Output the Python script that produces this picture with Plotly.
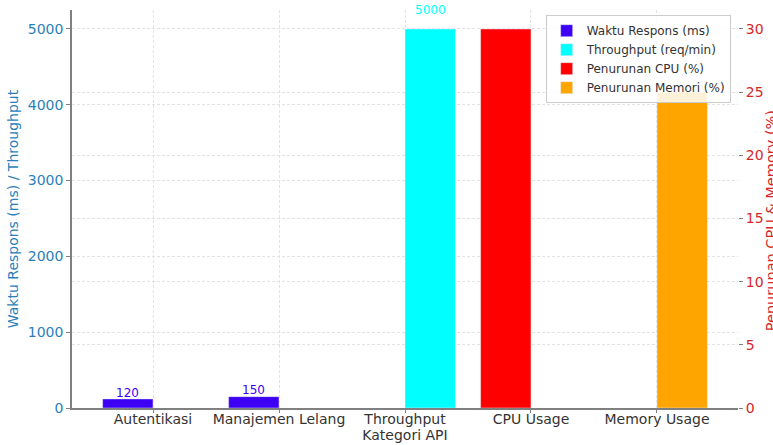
import plotly.graph_objects as go

categories = ["Autentikasi", "Manajemen Lelang", "Throughput", "CPU Usage", "Memory Usage"]
resp_idx = [0, 1]
resp_vals = [120, 150]
thr_idx = [2]
thr_vals = [5000]
cpu_idx = [3]
cpu_vals = [30]
mem_idx = [4]
mem_vals = [25]

C_RESP = "#3d00f5"
C_THR = "#00ffff"
C_CPU = "#ff0000"
C_MEM = "#ffa500"
C_LEFT = "#2a7fba"
C_RIGHT = "#d62728"
FONT = "DejaVu Sans"

fig = go.Figure()
fig.add_trace(go.Bar(x=resp_idx, y=resp_vals, name="Waktu Respons (ms)", marker_color=C_RESP,
                     width=0.4, offset=-0.4, yaxis="y"))
fig.add_trace(go.Bar(x=thr_idx, y=thr_vals, name="Throughput (req/min)", marker_color=C_THR,
                     width=0.4, offset=0, yaxis="y"))
fig.add_trace(go.Bar(x=cpu_idx, y=cpu_vals, name="Penurunan CPU (%)", marker_color=C_CPU,
                     width=0.4, offset=-0.4, yaxis="y2"))
fig.add_trace(go.Bar(x=mem_idx, y=mem_vals, name="Penurunan Memori (%)", marker_color=C_MEM,
                     width=0.4, offset=0, yaxis="y2"))

for xi, v in zip(resp_idx, resp_vals):
    fig.add_annotation(x=xi - 0.2, y=v * 1.04, xref="x", yref="y", text=str(v), showarrow=False,
                       yanchor="bottom", yshift=-3, font=dict(family=FONT, size=12, color=C_RESP))
for xi, v in zip(thr_idx, thr_vals):
    fig.add_annotation(x=xi + 0.2, y=v * 1.04, xref="x", yref="y", text=str(v), showarrow=False,
                       yanchor="bottom", yshift=-5, font=dict(family=FONT, size=12, color=C_THR))

# right axis title (partly cut by the page edge, as in the reference)
fig.add_annotation(xref="paper", yref="paper", x=1.05, y=0.47, text="Penurunan CPU & Memory (%)",
                   textangle=-90, showarrow=False, xanchor="center", yanchor="middle",
                   font=dict(family=FONT, size=14.5, color=C_RIGHT))

grid = dict(showgrid=True, gridcolor="#e3e3e3", griddash="3px,2px", gridwidth=0.8)

fig.update_layout(
    width=773, height=445,
    margin=dict(l=72, r=35, t=10, b=37),
    plot_bgcolor="white", paper_bgcolor="white",
    barmode="overlay",
    font=dict(family=FONT, size=14, color="#333333"),
    xaxis=dict(range=[-0.643, 4.643], tickmode="array", tickvals=list(range(len(categories))),
               ticktext=categories, showline=True, linecolor="#808080", linewidth=1.5,
               ticks="outside", ticklen=3, tickcolor="#808080", zeroline=False,
               ticklabelstandoff=-6,
               tickfont=dict(family=FONT, size=14, color="#333333"),
               title=dict(text="Kategori API", standoff=3, font=dict(family=FONT, size=14, color="#333333")),
               automargin=False, **grid),
    yaxis=dict(range=[0, 5250], tickvals=[0, 1000, 2000, 3000, 4000, 5000], showline=True,
               linecolor="#808080", linewidth=1.5, ticks="outside", ticklen=4, tickcolor="#808080",
               zeroline=False, tickfont=dict(family=FONT, size=14, color=C_LEFT),
               title=dict(text="Waktu Respons (ms) / Throughput", standoff=6,
                          font=dict(family=FONT, size=14, color=C_LEFT)),
               automargin=False, **grid),
    yaxis2=dict(range=[0, 31.5], tickvals=[0, 5, 10, 15, 20, 25, 30], overlaying="y", side="right",
                showline=False, ticks="outside", ticklen=4, tickcolor="#808080", zeroline=False,
                tickfont=dict(family=FONT, size=14, color=C_RIGHT),
                automargin=False, **grid),
    legend=dict(x=0.989, y=0.987, xanchor="right", yanchor="top", bgcolor="rgba(255,255,255,0.85)",
                bordercolor="#cccccc", borderwidth=1, font=dict(family=FONT, size=12, color="#333333"),
                traceorder="normal", tracegroupgap=0, itemwidth=30),
    showlegend=True,
)

fig.write_html("out.html", config={"displayModeBar": False},
               post_script="document.body.style.margin='0';document.body.style.padding='0';")
